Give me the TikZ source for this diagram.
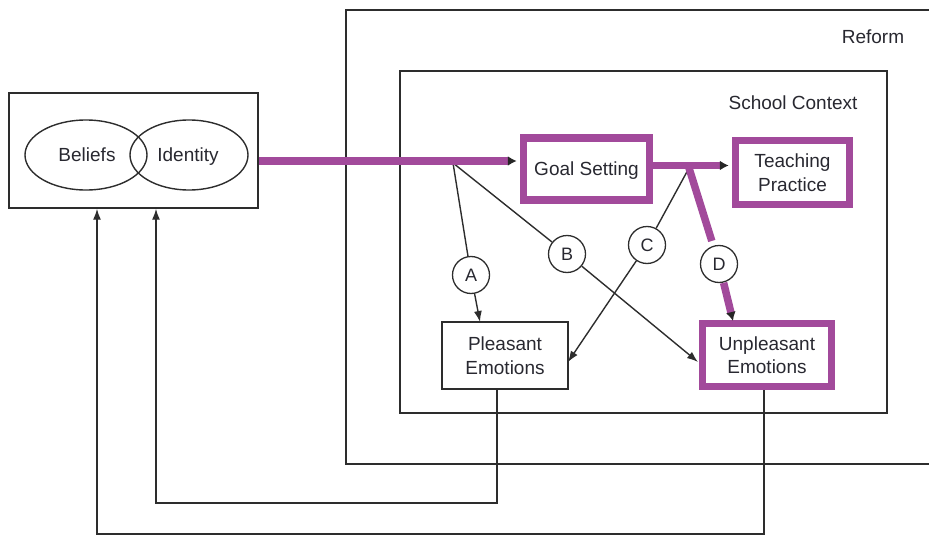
\documentclass[tikz,border=0pt]{standalone}
\usepackage{fontspec}
\setmainfont{Liberation Sans}
\usetikzlibrary{arrows.meta,shapes.geometric,calc}
\definecolor{pur}{RGB}{162,74,155}
\definecolor{ln}{RGB}{45,45,45}
\definecolor{tx}{RGB}{40,40,48}
\begin{document}
\begin{tikzpicture}[x=1pt,y=-1pt,
  every node/.style={text=tx, font=\fontsize{19}{23.5}\selectfont},
  oneline/.style={text height=13.7pt, text depth=0pt},
  box/.style={draw=ln, line width=1.4pt, align=center, inner sep=0pt},
  pbox/.style={draw=pur, line width=7.5pt, align=center, inner sep=0pt},
  ell/.style={draw=ln, line width=1.4pt, ellipse, minimum width=122pt, minimum height=70pt, inner sep=0pt},
  lab/.style={draw=ln, line width=1.3pt, circle, minimum size=37pt, inner sep=0pt, font=\fontsize{18}{20}\selectfont},
  thinarrow/.style={draw=ln, line width=1.4pt, -{Latex[length=11pt,width=8pt]}},
  thinline/.style={draw=ln, line width=1.4pt},
  parrow/.style={draw=pur, line width=7.5pt, -{Latex[length=9pt,width=10pt,color=black!85]}},
  pline/.style={draw=pur, line width=7.5pt},
  contbox/.style={draw=ln, line width=1.4pt}
]
\useasboundingbox (0,0) rectangle (929,535);
% containers
\draw[contbox] (935,10) -- (346,10) -- (346,464) -- (935,464);
\draw[contbox] (400,71) rectangle (887,413);
\node[oneline] (reform) at (873,37) {Reform};
\node[oneline] (school) at (793,103) {School Context};
% left box
\node[box, minimum width=249pt, minimum height=115pt] (leftbox) at (133.5,150.5) {};
\node[ell] (beliefs) at (86,155) {};
\node[ell, minimum width=118pt] (identity) at (189,155) {};
\node[oneline] (tb) at (87,155) {Beliefs};
\node[oneline] (ti) at (188,155) {Identity};
% main nodes
\node[pbox, oneline, minimum width=126pt, minimum height=62pt] (goal) at (586.5,169) {Goal Setting};
\node[pbox, minimum width=114pt, minimum height=64pt] (teach) at (792.5,172.5) {Teaching\\Practice};
\node[box, minimum width=126pt, minimum height=67pt] (pleasant) at (505,355.5) {Pleasant\\Emotions};
\node[pbox, minimum width=129pt, minimum height=63pt] (unpleasant) at (767,355) {Unpleasant\\Emotions};
% circles
\node[lab] (A) at (471,275) {A};
\node[lab] (B) at (567,254) {B};
\node[lab] (C) at (647,245) {C};
\node[lab] (D) at (719,264) {D};
% junctions and end points
\coordinate (j1) at (453,163);
\coordinate (j2) at (689,168);
\coordinate (pA) at (480,322);
\coordinate (pB) at (698,362);
\coordinate (pC) at (568,362);
\coordinate (pD) at (733,321);
\coordinate (c1) at (156,503);
\coordinate (c2) at (97,534);
% thin connectors
\draw[thinline] (j1) -- (A);
\draw[thinarrow] (A) -- (pA);
\draw[thinline] (j1) -- (B);
\draw[thinarrow] (B) -- (pB);
\draw[thinline] (j2) -- (C);
\draw[thinarrow] (C) -- (pC);
% feedback
\draw[thinarrow] ([xshift=-8pt]pleasant.south) |- (c1) -- (c1 |- leftbox.south);
\draw[thinarrow] ([xshift=-3pt]unpleasant.south) |- (c2) -- (c2 |- leftbox.south);
% purple connectors
\draw[pline] (j2) -- ($(j2)!0.76!(D)$);
\draw[parrow] ($(D)!0.33!(pD)$) -- (pD);
\draw[parrow] (leftbox.east |- 0,161) -- ([xshift=-3pt]goal.west |- 0,161);
\draw[parrow] ([yshift=3.5pt]goal.east) coordinate (g1) -- ([xshift=-3pt]g1 -| teach.west);
\end{tikzpicture}
\end{document}
